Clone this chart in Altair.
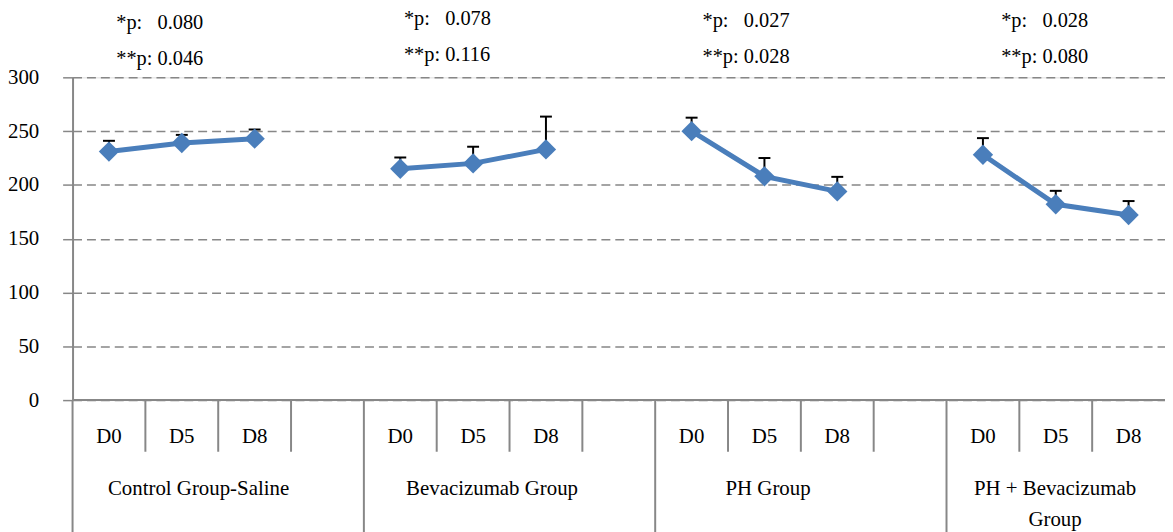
import altair as alt
import pandas as pd

# ---- data ----
groups = ["Control Group-Saline", "Bevacizumab Group", "PH Group", "PH + Bevacizumab Group"]
group_label_lines = [["Control Group-Saline"], ["Bevacizumab Group"], ["PH Group"], ["PH + Bevacizumab", "Group"]]
days = ["D0", "D5", "D8"]
means = [
    [231, 239, 243],
    [215, 220, 233],
    [250, 208, 194],
    [228, 182, 172],
]
upper = [
    [241, 246.5, 251.5],
    [225.5, 235.5, 263.5],
    [262.5, 225, 207.5],
    [243.5, 194.5, 185],
]
p_star = ["0.080", "0.078", "0.027", "0.028"]
p_dstar = ["0.046", "0.116", "0.028", "0.080"]
y_ticks = [0, 50, 100, 150, 200, 250, 300]

# ---- layout constants ----
SLOTS_PER_GROUP = 4
N_SLOTS = 15
W, H = 1100, 325
FONT = "Liberation Serif"
FS = 21
GRAY = "#878787"
BLUE = "#4A7EBB"
label_offsets = [1.73, 1.76, 1.55, 1.49]
annot_offsets = [0.6, 0.55, 0.65, 0.75]
annot_dy = [0, -4, -2, -2]

rows = []
for g, name in enumerate(groups):
    for d, day in enumerate(days):
        rows.append({
            "group": name,
            "day": day,
            "x": g * SLOTS_PER_GROUP + d + 0.5,
            "mean": means[g][d],
            "upper": upper[g][d],
        })
df = pd.DataFrame(rows)

sep_rows = []
for g in range(len(groups)):
    for k in range(SLOTS_PER_GROUP):
        b = g * SLOTS_PER_GROUP + k
        if b < N_SLOTS:
            sep_rows.append({"b": b, "major": k == 0})
sep_df = pd.DataFrame(sep_rows)

glabel_rows = []
for g, lines in enumerate(group_label_lines):
    for i, t in enumerate(lines):
        glabel_rows.append({"x": g * SLOTS_PER_GROUP + label_offsets[g], "line": i, "text": t})
glabel_df = pd.DataFrame(glabel_rows)

xscale = alt.Scale(domain=[0, N_SLOTS], nice=False, zero=False)
yscale = alt.Scale(domain=[0, 300], nice=False)
X = lambda f: alt.X(f, type="quantitative", scale=xscale, axis=None)

base = alt.Chart(df)

grid = base.mark_point(opacity=0).encode(
    x=X("x"),
    y=alt.Y("mean:Q", scale=yscale, axis=alt.Axis(
        values=y_ticks, grid=True, gridDash=[9, 5], gridColor=GRAY, gridWidth=1.5,
        domainColor=GRAY, domainWidth=2, tickColor=GRAY, tickSize=10, tickWidth=1.5,
        labelFont=FONT, labelFontSize=FS, labelColor="black", labelPadding=24, title=None)),
)

baseline = alt.Chart(pd.DataFrame({"a": [0], "b": [N_SLOTS]})).mark_rule(color=GRAY, strokeWidth=2).encode(
    x=X("a"), x2="b", y=alt.value(H))

minor_sep = alt.Chart(sep_df).transform_filter("!datum.major").mark_rule(color=GRAY, strokeWidth=2).encode(
    x=X("b"), y=alt.value(H), y2=alt.value(H + 52))
major_sep = alt.Chart(sep_df).transform_filter("datum.major").mark_rule(color=GRAY, strokeWidth=2).encode(
    x=X("b"), y=alt.value(H), y2=alt.value(H + 140))

day_text = base.mark_text(font=FONT, fontSize=FS, color="black", baseline="middle").encode(
    x=X("x"), y=alt.value(H + 37), text="day:N")

glabel1 = alt.Chart(glabel_df).transform_filter("datum.line == 0").mark_text(
    font=FONT, fontSize=FS, color="black", baseline="middle").encode(
    x=X("x"), y=alt.value(H + 90), text="text:N")
glabel2 = alt.Chart(glabel_df).transform_filter("datum.line == 1").mark_text(
    font=FONT, fontSize=FS, color="black", baseline="middle").encode(
    x=X("x"), y=alt.value(H + 121), text="text:N")

annots = []
for g in range(len(groups)):
    adf = pd.DataFrame({
        "x": [g * SLOTS_PER_GROUP + annot_offsets[g]] * 2,
        "row": [0, 1],
        "text": ["*p:\u00a0\u00a0\u00a0" + p_star[g], "**p: " + p_dstar[g]],
    })
    for r, ypix in enumerate([-55, -18]):
        annots.append(alt.Chart(adf).transform_filter(f"datum.row == {r}").mark_text(
            font=FONT, fontSize=20.5, color="black", baseline="middle", align="left").encode(
            x=X("x"), y=alt.value(ypix + annot_dy[g]), text="text:N"))

err = base.mark_rule(color="black", strokeWidth=2).encode(
    x=X("x"), y=alt.Y("mean:Q", scale=yscale), y2="upper:Q")
cap = base.mark_rule(color="black", strokeWidth=2, xOffset=-6, x2Offset=6).encode(
    x=X("x"), x2="x:Q", y=alt.Y("upper:Q", scale=yscale))

line = base.mark_line(color=BLUE, strokeWidth=5).encode(
    x=X("x"), y=alt.Y("mean:Q", scale=yscale), detail="group:N")
pts = base.mark_point(shape="diamond", filled=True, size=420, color=BLUE, opacity=1).encode(
    x=X("x"), y=alt.Y("mean:Q", scale=yscale))

chart = alt.layer(
    grid, baseline, minor_sep, major_sep, day_text, glabel1, glabel2, *annots,
    err, cap, line, pts
).properties(
    width=W, height=H,
    autosize=alt.AutoSizeParams(type="none"),
    padding={"left": 65, "top": 68, "right": 0, "bottom": 131},
).configure_view(stroke=None).configure(background="white", font=FONT)

chart.save("out.html", embed_options={"renderer": "svg", "actions": False})
